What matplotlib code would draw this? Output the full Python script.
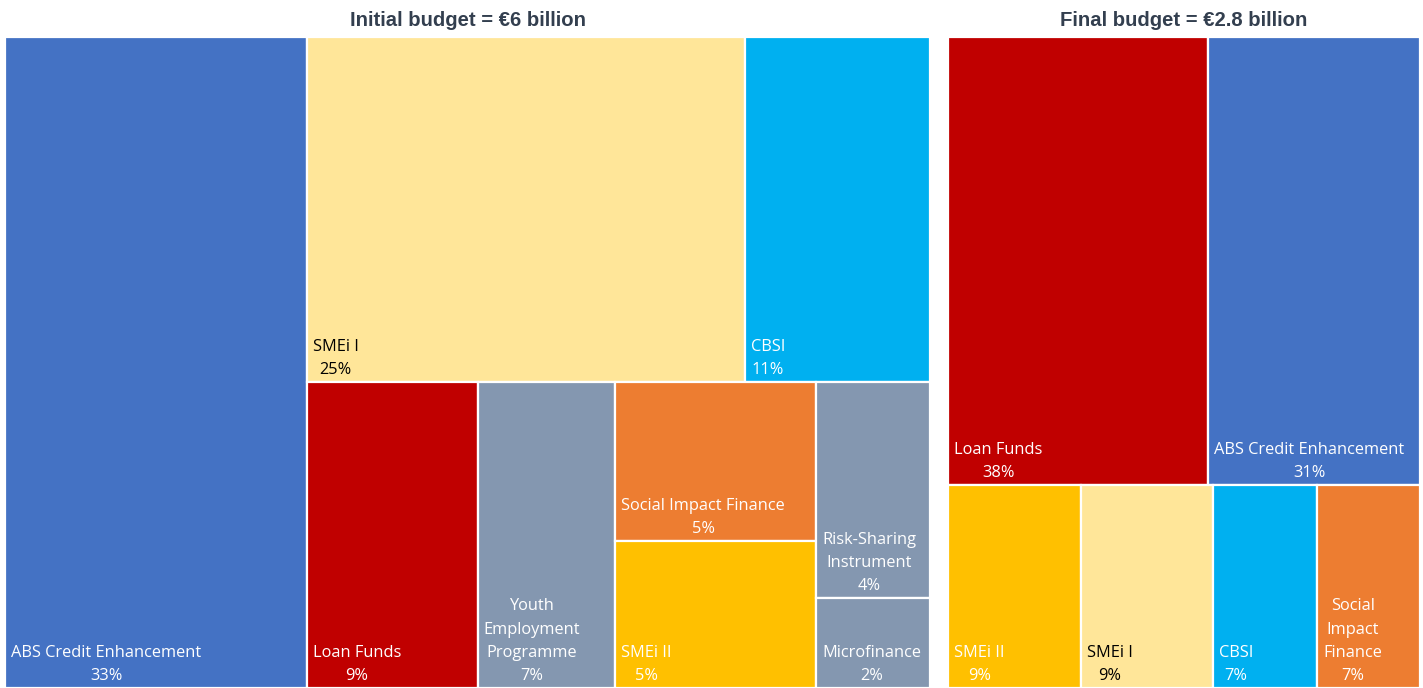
import matplotlib.pyplot as plt
from matplotlib.patches import Rectangle
from matplotlib.font_manager import FontProperties

# shares of each budget, in percent
initial_names = ["ABS Credit Enhancement", "SMEi I", "CBSI", "Loan Funds",
                 "Youth Employment Programme", "Social Impact Finance", "SMEi II",
                 "Risk-Sharing Instrument", "Microfinance"]
initial_share = [32.6, 25.1, 10.6, 8.7, 7.0, 5.3, 4.9, 4.1, 1.7]

final_names = ["Loan Funds", "ABS Credit Enhancement", "SMEi II", "SMEi I",
               "CBSI", "Social Impact Finance"]
final_share = [37.9, 30.9, 8.8, 8.7, 6.9, 6.8]

titles = ["Initial budget = €6 billion", "Final budget = €2.8 billion"]

colors = {
    "ABS Credit Enhancement": "#4472C4",
    "SMEi I": "#FFE699",
    "CBSI": "#00B0F0",
    "Loan Funds": "#C00000",
    "Youth Employment Programme": "#8497B0",
    "Social Impact Finance": "#ED7D31",
    "SMEi II": "#FFC000",
    "Risk-Sharing Instrument": "#8497B0",
    "Microfinance": "#8497B0",
}
dark_text = {"SMEi I"}

# split trees: "h" puts children side by side, "v" stacks them top to bottom,
# integers index into the share lists
initial_tree = ("h", 0, ("v", ("h", 1, 2), ("h", 3, 4, ("v", 5, 6), ("v", 7, 8))))
final_tree = ("v", ("h", 0, 1), ("h", 2, 3, 4, 5))


def total(node, vals):
    if isinstance(node, int):
        return vals[node]
    return sum(total(c, vals) for c in node[1:])


def layout(node, vals, x, y, w, h, out):
    if isinstance(node, int):
        out[node] = (x, y, w, h)
        return
    s = total(node, vals)
    if node[0] == "h":
        for c in node[1:]:
            cw = w * total(c, vals) / s
            layout(c, vals, x, y, cw, h, out)
            x += cw
    else:
        top = y + h
        for c in node[1:]:
            ch = h * total(c, vals) / s
            top -= ch
            layout(c, vals, x, top, w, ch, out)


label_font = FontProperties(family="Open Sans", size=11.8)
title_font = FontProperties(family="Liberation Sans", size=14.6, weight="bold")

fig = plt.figure(figsize=(14.23, 6.88), dpi=100)
renderer = fig.canvas.get_renderer()


def text_width(s):
    w, _, _ = renderer.get_text_width_height_descent(s, label_font, ismath=False)
    return w


def wrap(name, max_px):
    words = name.split()
    lines = [words[0]]
    for wd in words[1:]:
        trial = lines[-1] + " " + wd
        if text_width(trial) <= max_px:
            lines[-1] = trial
        else:
            lines.append(wd)
    return "\n".join(lines)


W, H = 1423, 688
panels = [
    (fig.add_axes([5 / W, 0, 925 / W, 651 / H]), initial_names, initial_share, initial_tree),
    (fig.add_axes([948 / W, 0, 472 / W, 651 / H]), final_names, final_share, final_tree),
]

for (ax, names, share, tree), title in zip(panels, titles):
    ax.set_xlim(0, 1)
    ax.set_ylim(0, 1)
    ax.axis("off")
    rects = {}
    layout(tree, share, 0, 0, 1, 1, rects)
    ax_px_w = ax.get_position().width * W
    for i, name in enumerate(names):
        x, y, w, h = rects[i]
        ax.add_patch(Rectangle((x, y), w, h, facecolor=colors[name],
                               edgecolor="white", linewidth=1.6))
        label = wrap(name, w * ax_px_w - 10) + f"\n{share[i]:.0f}%"
        ax.annotate(label, xy=(x, y), xytext=(6, 4), textcoords="offset pixels",
                    ha="left", va="bottom", multialignment="center",
                    fontproperties=label_font, linespacing=1.6,
                    color="black" if name in dark_text else "white")
    ax.set_title(title, fontproperties=title_font, color="#333F4F", pad=8)

fig.savefig("out.png", dpi=100, facecolor="white")
